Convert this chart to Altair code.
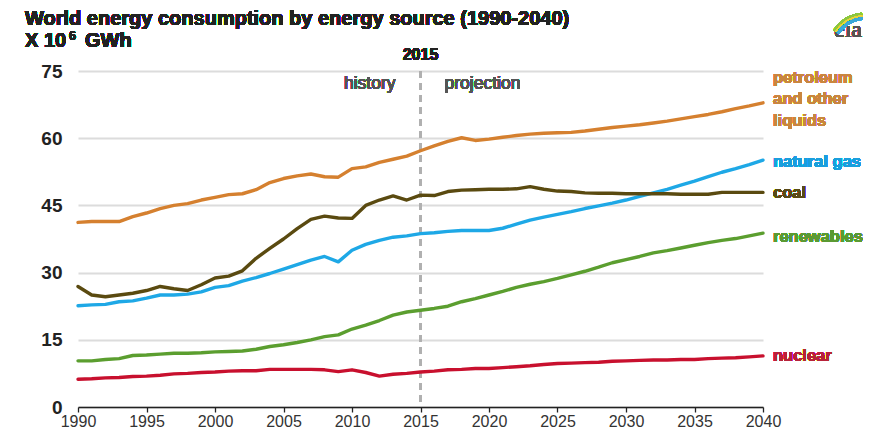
import altair as alt
import pandas as pd

# ---------------- data ----------------
years = list(range(1990, 2041))

petroleum = [41.2, 41.4, 41.4, 41.4, 42.5, 43.3, 44.3, 45.0, 45.4, 46.2,
             46.8, 47.4, 47.6, 48.5, 50.1, 51.0, 51.6, 52.0, 51.4, 51.3,
             53.2, 53.6, 54.6, 55.3, 56.0, 57.2, 58.3, 59.3, 60.1, 59.5,
             59.8, 60.2, 60.6, 60.9, 61.1, 61.2, 61.3, 61.6, 62.0, 62.4,
             62.7, 63.0, 63.4, 63.8, 64.3, 64.8, 65.3, 65.9, 66.6, 67.2,
             67.9]
natural_gas = [22.6, 22.8, 22.9, 23.5, 23.7, 24.3, 25.0, 25.0, 25.2, 25.7,
               26.7, 27.1, 28.1, 28.9, 29.8, 30.8, 31.8, 32.8, 33.6, 32.4,
               35.0, 36.3, 37.2, 37.9, 38.2, 38.7, 38.9, 39.2, 39.4, 39.4,
               39.4, 39.9, 40.8, 41.7, 42.4, 43.0, 43.6, 44.3, 44.9, 45.5,
               46.2, 47.0, 47.8, 48.6, 49.5, 50.4, 51.4, 52.4, 53.2, 54.1,
               55.1]
coal = [26.9, 25.0, 24.6, 25.0, 25.4, 26.0, 26.9, 26.4, 26.0, 27.3,
        28.8, 29.2, 30.4, 33.2, 35.4, 37.5, 39.8, 41.9, 42.6, 42.2,
        42.1, 45.0, 46.2, 47.1, 46.2, 47.3, 47.2, 48.1, 48.4, 48.5,
        48.6, 48.6, 48.7, 49.2, 48.6, 48.2, 48.1, 47.8, 47.7, 47.7,
        47.6, 47.6, 47.6, 47.6, 47.5, 47.5, 47.5, 47.9, 47.9, 47.9,
        47.9]
renewables = [10.3, 10.3, 10.6, 10.8, 11.5, 11.6, 11.8, 12.0, 12.0, 12.1,
              12.3, 12.4, 12.5, 12.9, 13.5, 13.9, 14.4, 15.0, 15.7, 16.1,
              17.4, 18.3, 19.3, 20.5, 21.2, 21.6, 22.0, 22.5, 23.5, 24.2,
              25.0, 25.8, 26.7, 27.4, 28.0, 28.7, 29.5, 30.3, 31.2, 32.2,
              32.9, 33.6, 34.4, 34.9, 35.5, 36.1, 36.7, 37.2, 37.6, 38.2,
              38.8]
nuclear = [6.2, 6.3, 6.5, 6.6, 6.8, 6.9, 7.1, 7.4, 7.5, 7.7,
           7.8, 8.0, 8.1, 8.1, 8.4, 8.4, 8.4, 8.4, 8.3, 7.9,
           8.3, 7.7, 6.9, 7.3, 7.5, 7.8, 8.0, 8.3, 8.4, 8.6,
           8.6, 8.8, 9.0, 9.2, 9.5, 9.7, 9.8, 9.9, 10.0, 10.2,
           10.3, 10.4, 10.5, 10.5, 10.6, 10.6, 10.8, 10.9, 11.0, 11.2,
           11.4]

sources = ["petroleum and other liquids", "natural gas", "coal", "renewables", "nuclear"]
series = [petroleum, natural_gas, coal, renewables, nuclear]

x_ticks = list(range(1990, 2041, 5))
y_ticks = [0, 15, 30, 45, 60, 75]

# right-hand labels (text lines and the value where each line sits)
label_texts = ["petroleum", "and other", "liquids", "natural gas", "coal", "renewables", "nuclear"]
label_at = [73.4, 68.8, 63.9, 54.7, 47.8, 37.9, 11.4]

# ---------------- styles ----------------
line_colors = ["#D5802F", "#1EA8E6", "#5A4A10", "#5B9E2F", "#C8102E"]
label_colors = ["#C9863F", "#C9863F", "#C9863F", "#1A9FDD", "#5A4A16", "#5B9A33", "#B8233A"]
FONT = "Liberation Sans"

rows = []
for s, vals in zip(sources, series):
    for yr, v in zip(years, vals):
        rows.append({"year": yr, "value": v, "source": s})
df = pd.DataFrame(rows)

x_scale = alt.Scale(domain=[1990, 2040], nice=False, zero=False)
y_scale = alt.Scale(domain=[0, 75], nice=False, zero=True)

base = alt.Chart(df)

lines = base.mark_line(strokeWidth=3.4, strokeJoin="round", strokeCap="round").encode(
    x=alt.X("year:Q", scale=x_scale,
            axis=alt.Axis(values=x_ticks, format="d", title=None, grid=False,
                          domainColor="#222", domainWidth=1.3, tickColor="#222",
                          tickSize=5, tickWidth=1.3, labelFontSize=16, labelColor="#333",
                          labelPadding=1, labelBaseline="top", labelFlush=False,
                          labelFont=FONT)),
    y=alt.Y("value:Q", scale=y_scale,
            axis=alt.Axis(values=y_ticks, title=None, grid=True, gridColor="#dcdcdc",
                          gridWidth=2, domain=False, ticks=False, labelFontSize=19,
                          labelFontWeight="bold", labelColor="#222", labelPadding=16,
                          labelFont=FONT)),
    color=alt.Color("source:N", scale=alt.Scale(domain=sources, range=line_colors), legend=None),
)

divider = base.mark_rule(strokeDash=[7, 5], color="#b0b0b0", strokeWidth=1.5).encode(
    x=alt.datum(2015)
)

year_lbl = base.mark_text(text="2015", font=FONT, fontSize=16, fontWeight="bold",
                          color="#222", baseline="middle", align="center").encode(
    x=alt.datum(2015), y=alt.value(-16))
hist_lbl = base.mark_text(text="history", font=FONT, fontSize=17.5, color="#555",
                          baseline="middle", align="right", dx=-25).encode(
    x=alt.datum(2015), y=alt.value(13))
proj_lbl = base.mark_text(text="projection", font=FONT, fontSize=17.5, color="#555",
                          baseline="middle", align="left", dx=24).encode(
    x=alt.datum(2015), y=alt.value(13))

label_layers = []
for t, v, c in zip(label_texts, label_at, label_colors):
    label_layers.append(
        base.mark_text(text=t, font=FONT, fontSize=16.5, fontWeight="bold", color=c,
                       align="left", baseline="middle", dx=10).encode(
            x=alt.datum(2040), y=alt.datum(v))
    )

title_txt = base.mark_text(text="World energy consumption by energy source (1990-2040)",
                           font=FONT, fontSize=20, fontWeight="bold", color="#222",
                           align="left", baseline="alphabetic").encode(
    x=alt.value(-53), y=alt.value(-46))
unit_a = base.mark_text(text="X 10", font=FONT, fontSize=20, fontWeight="bold", color="#222",
                        align="left", baseline="alphabetic").encode(
    x=alt.value(-53), y=alt.value(-24))
unit_b = base.mark_text(text="6", font=FONT, fontSize=12.5, fontWeight="bold", color="#222",
                        align="left", baseline="alphabetic").encode(
    x=alt.value(-9), y=alt.value(-31))
unit_c = base.mark_text(text="GWh", font=FONT, fontSize=20, fontWeight="bold", color="#222",
                        align="left", baseline="alphabetic").encode(
    x=alt.value(7), y=alt.value(-24))

logo_txt = base.mark_text(text="eia", font="Liberation Serif", fontSize=24, color="#555",
                          align="right", baseline="alphabetic").encode(
    x=alt.value(784), y=alt.value(-34))
logo_arcs = []
for r1, r2, c in [(37, 39.5, "#8DC63F"), (35, 37, "#E8D33A"), (32.5, 35, "#3BA8D8")]:
    logo_arcs.append(
        base.mark_arc(theta=5.3, theta2=6.18, radius=r2, radius2=r1, color=c).encode(
            x=alt.value(788), y=alt.value(-19))
    )

chart = alt.layer(
    divider, lines, year_lbl, hist_lbl, proj_lbl, *label_layers,
    title_txt, unit_a, unit_b, unit_c, logo_txt, *logo_arcs
).properties(
    width=685, height=336,
    autosize=alt.AutoSizeParams(type="none"),
    padding={"left": 70, "top": 63, "right": 100, "bottom": 24},
    background="white",
).configure_view(stroke=None)

chart.save("out.html", embed_options={"renderer": "svg", "actions": False})
